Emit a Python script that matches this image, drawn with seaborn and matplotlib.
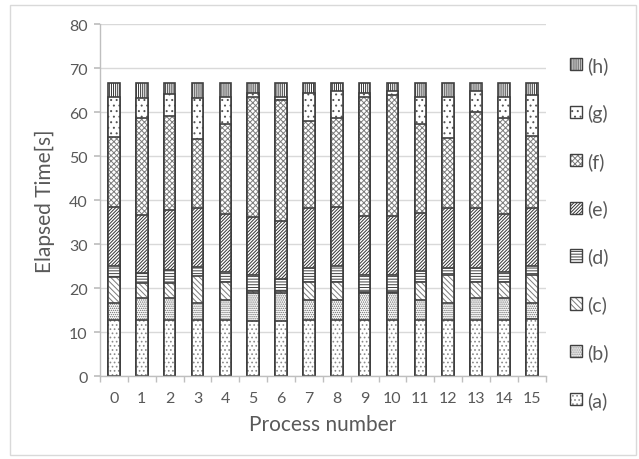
import matplotlib
matplotlib.use("Agg")
import matplotlib.pyplot as plt
import matplotlib.patches as mpatches
import numpy as np
import pandas as pd
import seaborn as sns

# ===============================
# data
# ===============================
process = [str(i) for i in range(16)]
labels = ['(a)', '(b)', '(c)', '(d)', '(e)', '(f)', '(g)', '(h)']

seg_a = [12.7, 12.7, 12.7, 12.7, 12.7, 12.6, 12.6, 12.7, 12.7, 12.7, 12.7, 12.7, 12.7, 12.7, 12.7, 12.9]
seg_b = [4.0, 5.0, 5.0, 4.0, 4.6, 6.3, 6.3, 4.7, 4.7, 6.1, 6.1, 4.7, 4.0, 5.0, 5.0, 3.8]
seg_c = [5.9, 3.5, 3.5, 6.0, 4.2, 0.4, 0.5, 4.1, 4.1, 0.4, 0.4, 4.1, 6.3, 3.8, 3.8, 6.4]
seg_d = [2.4, 2.3, 3.0, 2.1, 2.2, 3.7, 2.6, 3.1, 3.5, 3.8, 3.8, 2.4, 1.6, 3.1, 2.2, 1.9]
seg_e = [13.5, 13.2, 13.5, 13.3, 13.2, 13.2, 13.2, 13.5, 13.5, 13.4, 13.5, 13.2, 13.5, 13.5, 13.2, 13.3]
seg_f = [15.8, 21.9, 21.4, 15.7, 20.3, 27.3, 27.5, 19.9, 20.1, 27.1, 27.3, 20.3, 16.1, 21.9, 21.8, 16.2]
seg_g = [9.1, 4.7, 5.1, 9.3, 6.2, 0.9, 0.8, 6.4, 6.1, 0.9, 0.9, 6.1, 9.3, 4.9, 4.8, 9.3]
seg_h = [3.2, 3.3, 2.4, 3.5, 3.2, 2.2, 3.1, 2.2, 1.9, 2.2, 1.9, 3.1, 3.1, 1.7, 3.1, 2.9]

segments = [seg_a, seg_b, seg_c, seg_d, seg_e, seg_f, seg_g, seg_h]
hatches = ['....', '........', '\\\\\\\\\\\\', '------', '//////////', 'xxxxxx', '...', '||||||||']
hatch_cols = ['#8a8a8a', '#6a6a6a', '#7a7a7a', '#404040', '#333333', '#7c7c7c', '#555555', '#353535']

# ===============================
# style
# ===============================
sns.set_theme(style="white")
plt.rcParams['font.family'] = ['Lato', 'DejaVu Sans']
plt.rcParams['hatch.linewidth'] = 0.7
text_col = '#595959'
edge_col = '#404040'

fig = plt.figure(figsize=(6.39, 4.6), dpi=100)
ax = fig.add_axes([0.1565, 0.180, 0.6975, 0.7655])

# cumulative stacks, drawn from the top layer down so lower layers cover
df = pd.DataFrame({lab: seg for lab, seg in zip(labels, segments)}, index=process)
cum = df.cumsum(axis=1)
for lab, hatch, hc in reversed(list(zip(labels, hatches, hatch_cols))):
    # hatched fill (hatch takes the edge colour, so no outline here)
    sns.barplot(x=process, y=cum[lab].values, color='white', saturation=1,
                hatch=hatch, edgecolor=hc, linewidth=0, width=0.42, ax=ax)
    # dark outline
    sns.barplot(x=process, y=cum[lab].values, fill=False, saturation=1,
                edgecolor=edge_col, linewidth=1.2, width=0.42, ax=ax)

ax.set_ylim(0, 80)
ax.set_xlim(-0.5, 15.5)
ax.set_yticks(range(0, 81, 10))
ax.yaxis.grid(True, color='#d9d9d9', linewidth=1.0)
ax.set_axisbelow(True)
for s in ['top', 'right']:
    ax.spines[s].set_visible(False)
for s in ['left', 'bottom']:
    ax.spines[s].set_color('#bfbfbf')
    ax.spines[s].set_linewidth(1.0)

ax.set_xticks(np.arange(-0.5, 16, 1), minor=True)
ax.tick_params(axis='x', which='major', length=0, pad=11, labelsize=11.5, colors=text_col)
ax.tick_params(axis='x', which='minor', length=4, color='#bfbfbf', direction='out', bottom=True)
ax.tick_params(axis='y', length=4, color='#bfbfbf', direction='out', left=True,
               pad=5, labelsize=11.5, labelcolor=text_col)

ax.set_xlabel('Process number', fontsize=15, color=text_col, labelpad=6)
ax.set_ylabel('Elapsed Time[s]', fontsize=15, color=text_col, labelpad=10)

handles = [mpatches.Patch(facecolor='white', edgecolor=hc, hatch=h, linewidth=0)
           for h, hc in zip(hatches, hatch_cols)]
outline = [mpatches.Patch(fill=False, edgecolor=edge_col, linewidth=1.0) for _ in hatches]
leg = fig.legend([(hd, ol) for hd, ol in zip(handles, outline)][::-1], labels[::-1],
                 loc='upper left', bbox_to_anchor=(0.880, 0.893), frameon=False, fontsize=14,
                 handlelength=0.6, handleheight=0.6, handletextpad=0.3,
                 labelspacing=1.54, borderaxespad=0)
for t in leg.get_texts():
    t.set_color(text_col)

# outer chart border
fig.patches.append(mpatches.Rectangle((0.015, 0.009), 0.98, 0.978, transform=fig.transFigure,
                                      fill=False, edgecolor='#d9d9d9', linewidth=1.0))

plt.savefig('out.png', dpi=100)
plt.close()
